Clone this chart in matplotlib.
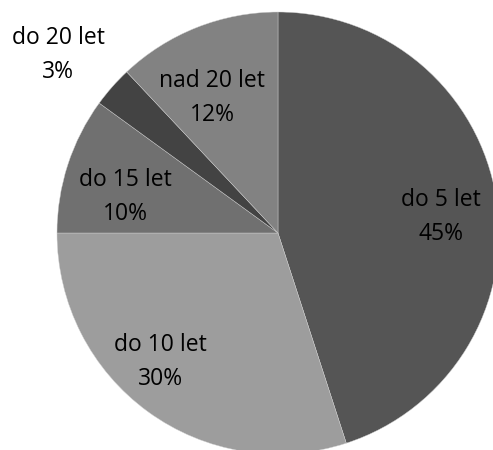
import numpy as np
import matplotlib
matplotlib.use("Agg")
import matplotlib.pyplot as plt

labels = ["do 5 let", "do 10 let", "do 15 let", "do 20 let", "nad 20 let"]
shares = [45, 30, 10, 3, 12]
colors = ["#555555", "#9d9d9d", "#707070", "#434343", "#828282"]
# label placement: radius factor and angle tweak (deg) per slice
label_r = [0.74, 0.79, 0.71, 1.28, 0.68]
label_dang = [-3.4, -6.5, 4.7, 2.4, 4.3]

plt.rcParams['font.family'] = ['Open Sans', 'DejaVu Sans']

fig = plt.figure(figsize=(4.93, 4.5), dpi=100)
R = 221
cx, cy = 278, 450 - 233
ax = fig.add_axes([(cx - R) / 493, (cy - R) / 450, 2 * R / 493, 2 * R / 450])
wedges, _ = ax.pie(shares, colors=colors, startangle=90, counterclock=False,
                   radius=1, wedgeprops=dict(edgecolor="#d0d0d0", linewidth=0.3))
ax.set_xlim(-1, 1)
ax.set_ylim(-1, 1)
ax.set_aspect("equal")
ax.axis("off")

for w, lab, v, r, da in zip(wedges, labels, shares, label_r, label_dang):
    ang = np.deg2rad((w.theta1 + w.theta2) / 2 + da)
    x, y = r * np.cos(ang), r * np.sin(ang)
    ax.text(x, y, f"{lab}\n{v}%", ha="center", va="center", fontsize=16.5,
            linespacing=1.55, color="black", clip_on=False)

fig.savefig("out.png", dpi=100)
